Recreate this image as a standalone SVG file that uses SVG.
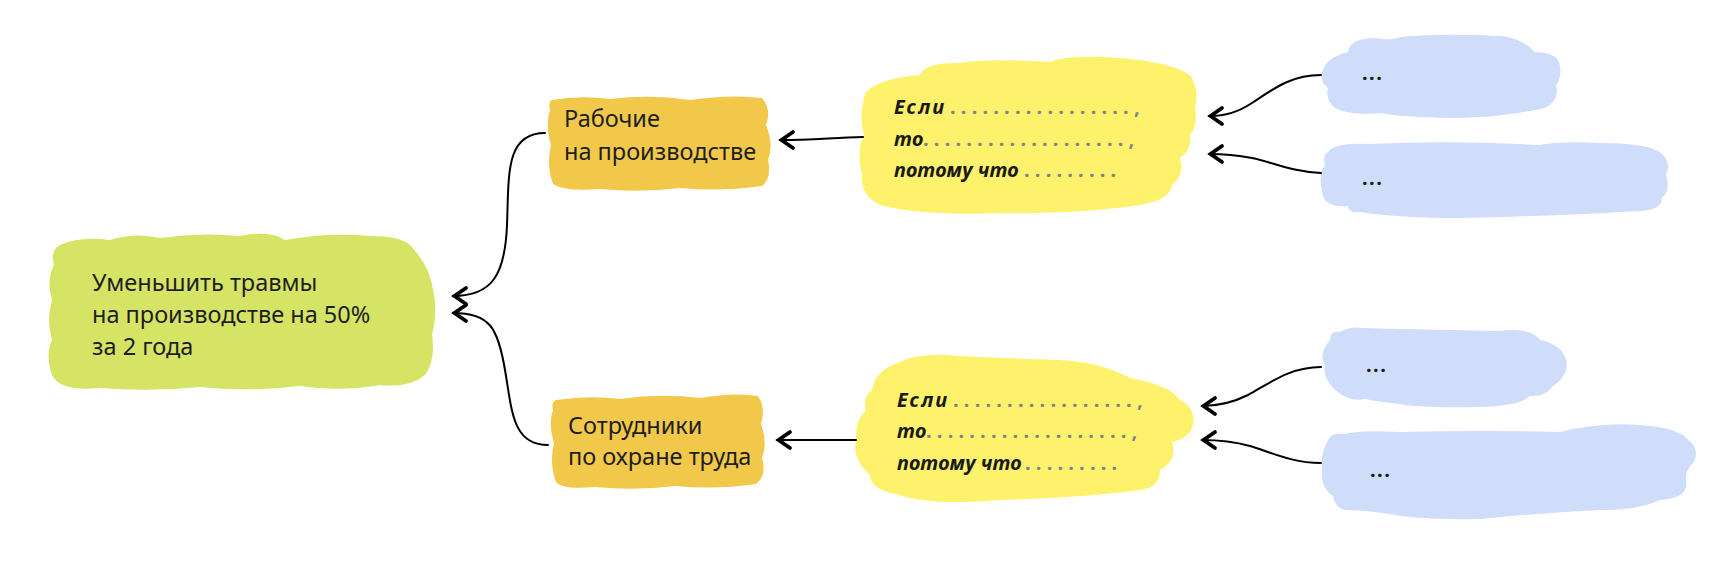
<svg xmlns="http://www.w3.org/2000/svg" width="1734" height="576" viewBox="0 0 1734 576">
<style>
.bg{fill:#ffffff}
.green{fill:#d5e465}
.orange{fill:#f2c84b}
.yellow{fill:#fef26c}
.blue{fill:#cfddfb}
.t{font-family:"Noto Sans","Open Sans","Liberation Sans",sans-serif;font-size:23.5px;fill:#1e1e1e}
.b{font-family:"Noto Sans","Open Sans","Liberation Sans",sans-serif;font-size:20px;font-weight:700;font-style:italic;fill:#1a1a1a}
.w{letter-spacing:2px}
.d{font-family:"Noto Sans","Liberation Sans",sans-serif;font-size:20px;font-weight:700;fill:#7f838c;letter-spacing:5.2px}
.e{font-family:"Noto Sans","Liberation Sans",sans-serif;font-size:20px;font-weight:700;fill:#1e1e1e;letter-spacing:1.5px}
.c{fill:none;stroke:#000;stroke-width:2;stroke-linecap:round}
</style>
<defs>
<marker id="ah" markerUnits="userSpaceOnUse" markerWidth="24" markerHeight="24" viewBox="-18 -12 24 24" refX="0" refY="0" orient="auto">
<path d="M-13,-8 L-1.5,0 L-13,8" fill="none" stroke="#000" stroke-width="3.8" stroke-linejoin="miter" stroke-linecap="round"/>
</marker>
</defs>
<rect class="bg" x="0" y="0" width="1734" height="576"/>

<g id="goal">
<path class="green" d="M60,245 Q80,236 110,240 Q135,232 160,238 Q200,232 240,236 Q270,230 285,240 Q330,232 370,236 Q400,236 410,245 Q430,266 433,290 Q438,310 432,335 Q436,360 425,375 Q410,388 380,385 Q340,392 300,386 Q250,392 200,387 Q150,392 100,388 Q60,392 52,375 Q45,355 52,340 Q46,320 52,300 Q46,280 54,265 Q50,250 60,245 Z"/>
<text class="t" x="92" y="291">Уменьшить травмы</text>
<text class="t" x="92" y="323">на производстве на 50%</text>
<text class="t" x="92" y="355">за 2 года</text>
</g>

<g id="workers">
<path class="orange" d="M552,100 Q580,95 610,99 Q650,94 690,100 Q730,94 762,98 Q772,110 766,125 Q774,145 768,160 Q772,178 762,186 Q720,192 680,188 Q640,193 600,189 Q565,192 553,184 Q546,165 551,145 Q545,125 550,110 Q548,102 552,100 Z"/>
<text class="t" x="564" y="127">Рабочие</text>
<text class="t" x="564" y="160">на производстве</text>
</g>

<g id="safety">
<path class="orange" d="M556,400 Q590,395 620,399 Q660,393 700,398 Q735,392 758,396 Q766,408 761,424 Q768,444 762,458 Q767,476 756,484 Q715,490 675,486 Q635,491 595,487 Q562,490 556,482 Q549,463 554,443 Q548,423 553,410 Q551,402 556,400 Z"/>
<text class="t" x="568" y="434">Сотрудники</text>
<text class="t" x="568" y="465">по охране труда</text>
</g>

<g id="hyp1">
<path class="yellow" d="M866,92 Q880,78 920,75 Q925,62 960,63 Q990,58 1050,62 Q1070,54 1120,58 Q1170,62 1190,75 Q1200,90 1195,108 Q1198,125 1190,135 Q1192,150 1180,158 Q1185,175 1172,185 Q1170,200 1140,205 Q1080,214 1000,213 Q920,216 880,205 Q860,195 862,175 Q856,150 864,135 Q858,115 866,92 Z"/>
<text class="b w" x="894" y="114">Если</text>
<text class="d" x="950" y="114">.................,</text>
<text class="b" x="894" y="146">то</text>
<text class="d" x="923" y="146">...................,</text>
<text class="b" x="894" y="177">потому что</text>
<text class="d" x="1024" y="177">.........</text>
</g>

<g id="hyp2">
<path class="yellow" d="M872,390 Q875,370 900,362 Q920,352 960,356 Q1000,358 1060,360 Q1100,362 1130,378 Q1170,385 1180,400 Q1196,408 1193,425 Q1190,438 1172,442 Q1178,460 1160,470 Q1160,488 1140,490 Q1080,498 1000,500 Q930,506 900,495 Q870,490 870,475 Q852,460 856,440 Q855,420 866,410 Q862,398 872,390 Z"/>
<text class="b w" x="897" y="407">Если</text>
<text class="d" x="953" y="407">.................,</text>
<text class="b" x="897" y="438">то</text>
<text class="d" x="926" y="438">...................,</text>
<text class="b" x="897" y="470">потому что</text>
<text class="d" x="1025" y="470">.........</text>
</g>

<g id="evidence1">
<path class="blue" d="M1348,52 Q1350,38 1375,38 Q1392,41 1400,37 Q1440,33 1500,36 Q1522,38 1535,52 Q1552,52 1558,60 Q1564,72 1556,86 Q1560,100 1545,108 Q1500,118 1450,118 Q1400,117 1380,113 Q1350,116 1335,108 Q1325,100 1328,88 Q1318,80 1323,70 Q1326,58 1348,52 Z"/>
<text class="e" x="1362" y="80">...</text>
</g>

<g id="evidence2">
<path class="blue" d="M1328,152 Q1334,142 1370,144 Q1450,140 1540,145 Q1560,141 1600,143 Q1645,143 1660,152 Q1672,162 1666,174 Q1671,190 1662,198 Q1662,210 1640,211 Q1560,216 1460,218 Q1400,218 1360,212 Q1348,213 1348,206 Q1322,208 1322,190 Q1318,175 1325,165 Q1322,156 1328,152 Z"/>
<text class="e" x="1362" y="185">...</text>
</g>

<g id="evidence3">
<path class="blue" d="M1330,340 Q1330,330 1340,332 Q1350,326 1362,328 Q1440,330 1500,331 Q1530,327 1540,340 Q1565,345 1567,365 Q1566,378 1552,387 Q1545,397 1530,396 Q1520,406 1478,407 Q1420,408 1400,404 Q1380,402 1365,399 Q1350,402 1338,392 Q1322,380 1325,366 Q1318,354 1330,340 Z"/>
<text class="e" x="1366" y="372">...</text>
</g>

<g id="evidence4">
<path class="blue" d="M1328,440 Q1332,432 1345,434 Q1360,430 1400,432 Q1480,430 1560,432 Q1600,422 1640,425 Q1680,428 1688,440 Q1700,448 1694,462 Q1685,470 1686,480 Q1690,498 1660,500 Q1640,510 1600,510 Q1540,513 1480,519 Q1420,520 1390,514 Q1360,510 1345,510 Q1335,508 1333,496 Q1320,488 1322,468 Q1320,455 1328,440 Z"/>
<text class="e" x="1370" y="477">...</text>
</g>

<g id="connectors">
<path class="c" marker-end="url(#ah)" d="M545,133 C505,133 509,175 507,225 C505,275 492,296 453,296"/>
<path class="c" marker-end="url(#ah)" d="M548,445 C512,445 512,410 505,370 C498,328 490,313 453,313"/>
<path class="c" marker-end="url(#ah)" d="M863,137 C830,138 810,140 780,140"/>
<path class="c" marker-end="url(#ah)" d="M856,440 L777,440"/>
<path class="c" marker-end="url(#ah)" d="M1321,75 C1290,75 1272,90 1252,103 C1238,112 1226,116 1209,116"/>
<path class="c" marker-end="url(#ah)" d="M1321,173 C1292,172 1272,162 1252,158 C1236,155 1224,154 1209,154"/>
<path class="c" marker-end="url(#ah)" d="M1321,367 C1290,367 1270,383 1248,395 C1232,403 1218,406 1202,406"/>
<path class="c" marker-end="url(#ah)" d="M1321,463 C1292,463 1270,452 1250,446 C1232,441 1218,440 1202,440"/>
</g>
</svg>
